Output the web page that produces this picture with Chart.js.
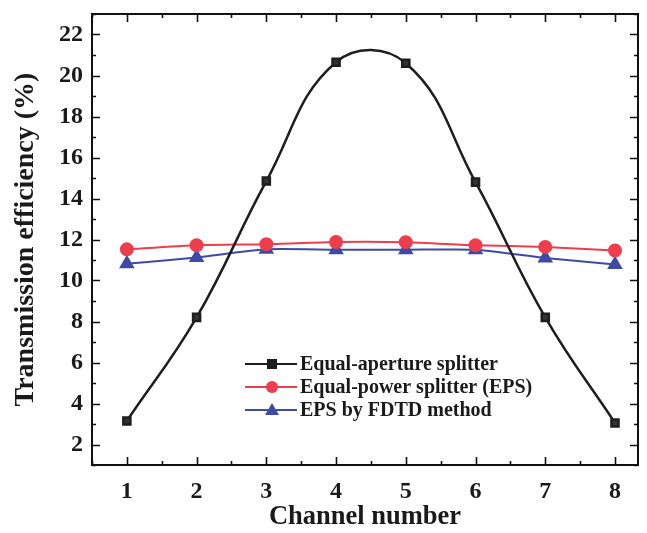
<!DOCTYPE html>
<html>
<head>
<meta charset="utf-8">
<script src="https://cdn.jsdelivr.net/npm/chart.js@4.4.1/dist/chart.umd.min.js"></script>
<style>
  html, body { margin: 0; padding: 0; background: #fff; }
  #wrap { width: 647px; height: 533px; }
</style>
</head>
<body>
<div id="wrap"><canvas id="grafico"></canvas></div>
<script>
/* ─── Dados ─── */
const canais = [1, 2, 3, 4, 5, 6, 7, 8];
const equalAperture = [3.15, 8.2, 14.85, 20.65, 20.6, 14.8, 8.2, 3.05];
const equalPower    = [11.52, 11.72, 11.77, 11.88, 11.87, 11.72, 11.64, 11.46];
const epsFdtd       = [10.82, 11.12, 11.52, 11.5, 11.5, 11.5, 11.1, 10.78];

const xTicks = [1, 2, 3, 4, 5, 6, 7, 8];
const yTicks = [2, 4, 6, 8, 10, 12, 14, 16, 18, 20, 22];

const legendas = ['Equal-aperture splitter', 'Equal-power splitter (EPS)', 'EPS by FDTD method'];

const FONTE = "'Liberation Serif', 'Times New Roman', serif";
const COR_PRETO = '#1e1e1e';
const COR_VERM  = '#ee3d4c';
const COR_AZUL  = '#3d4aa6';

const pts = arr => canais.map((c, i) => ({ x: c, y: arr[i] }));

/* ─── Moldura, ticks internos e legenda ─── */
const molduraPlugin = {
  id: 'moldura',
  afterDraw(chart) {
    const { ctx, chartArea: a, scales } = chart;
    const sx = scales.x, sy = scales.y;
    ctx.save();
    ctx.strokeStyle = '#111';
    ctx.lineWidth = 2;
    ctx.strokeRect(a.left, a.top, a.right - a.left, a.bottom - a.top);

    ctx.lineWidth = 1.6;
    ctx.beginPath();
    for (let v = 0.5; v <= 8.3; v += 0.5) {
      const px = Math.round(sx.getPixelForValue(v)) + 0.5;
      const len = Number.isInteger(v) ? 8 : 4;
      ctx.moveTo(px, a.bottom); ctx.lineTo(px, a.bottom - len);
      ctx.moveTo(px, a.top);    ctx.lineTo(px, a.top + len);
    }
    for (let v = 1; v <= 23; v += 1) {
      const py = Math.round(sy.getPixelForValue(v)) + 0.5;
      const len = v % 2 === 0 ? 8 : 4;
      ctx.moveTo(a.left, py);  ctx.lineTo(a.left + len, py);
      ctx.moveTo(a.right, py); ctx.lineTo(a.right - len, py);
    }
    ctx.stroke();

    // legenda: linha + marcador + texto
    const estilos = [
      { cor: COR_PRETO, forma: 'rect' },
      { cor: COR_VERM,  forma: 'circle' },
      { cor: COR_AZUL,  forma: 'triangle' },
    ];
    const x0 = 245, x1 = 297, xm = 272;
    const linhasY = [364, 387, 410];
    ctx.font = 'bold 20px ' + FONTE;
    ctx.textBaseline = 'middle';
    ctx.textAlign = 'left';
    estilos.forEach((e, i) => {
      const y = linhasY[i];
      ctx.strokeStyle = e.cor;
      ctx.fillStyle = e.cor;
      ctx.lineWidth = 2;
      ctx.beginPath(); ctx.moveTo(x0, y); ctx.lineTo(x1, y); ctx.stroke();
      ctx.beginPath();
      if (e.forma === 'rect') ctx.rect(xm - 5, y - 5, 10, 10);
      else if (e.forma === 'circle') ctx.arc(xm, y, 6, 0, Math.PI * 2);
      else { ctx.moveTo(xm, y - 7); ctx.lineTo(xm + 7, y + 5); ctx.lineTo(xm - 7, y + 5); ctx.closePath(); }
      ctx.fill();
      ctx.fillStyle = '#1a1a1a';
      ctx.fillText(legendas[i], 300, y + 1);
    });
    ctx.restore();
  }
};

const ctx = document.getElementById('grafico').getContext('2d');
new Chart(ctx, {
  type: 'line',
  data: {
    datasets: [
      {
        label: legendas[0],
        data: pts(equalAperture),
        borderColor: COR_PRETO,
        backgroundColor: '#333',
        borderWidth: 2.5,
        pointStyle: 'rect',
        pointRadius: 5,
        tension: 0.42,
        order: 1,
      },
      {
        label: legendas[1],
        data: pts(equalPower),
        borderColor: COR_VERM,
        backgroundColor: COR_VERM,
        borderWidth: 2,
        pointStyle: 'circle',
        pointRadius: 6,
        tension: 0.2,
        order: 2,
      },
      {
        label: legendas[2],
        data: pts(epsFdtd),
        borderColor: COR_AZUL,
        backgroundColor: COR_AZUL,
        borderWidth: 2,
        pointStyle: 'triangle',
        pointRadius: 7,
        tension: 0.2,
        order: 3,
      },
    ]
  },
  options: {
    responsive: true,
    maintainAspectRatio: false,
    animation: false,
    layout: { padding: { top: 14, right: 7, left: 0, bottom: 0 } },
    plugins: {
      legend: { display: false },
      tooltip: { enabled: false },
    },
    scales: {
      x: {
        type: 'linear',
        min: 0.5,
        max: 8.33,
        afterBuildTicks: s => { s.ticks = xTicks.map(v => ({ value: v })); },
        afterFit: s => { s.height = 68; s.paddingLeft = 0; s.paddingRight = 0; },
        grid: { display: false, drawTicks: false },
        border: { display: false },
        ticks: {
          padding: 12,
          color: '#1a1a1a',
          font: { family: FONTE, size: 24, weight: 'bold' },
        },
        title: {
          display: true,
          text: 'Channel number',
          color: '#1a1a1a',
          padding: { top: 0, bottom: 0 },
          font: { family: FONTE, size: 26.5, weight: 'bold' },
        },
      },
      y: {
        min: 1,
        max: 23,
        afterBuildTicks: s => { s.ticks = yTicks.map(v => ({ value: v })); },
        afterFit: s => { s.width = 92; s.paddingTop = 0; s.paddingBottom = 0; },
        grid: { display: false, drawTicks: false },
        border: { display: false },
        ticks: {
          padding: 9,
          color: '#1a1a1a',
          font: { family: FONTE, size: 24, weight: 'bold' },
        },
        title: {
          display: true,
          text: 'Transmission efficiency (%)',
          color: '#1a1a1a',
          padding: { top: 9, bottom: 0 },
          font: { family: FONTE, size: 28, weight: 'bold' },
        },
      },
    }
  },
  plugins: [molduraPlugin]
});
</script>
</body>
</html>
